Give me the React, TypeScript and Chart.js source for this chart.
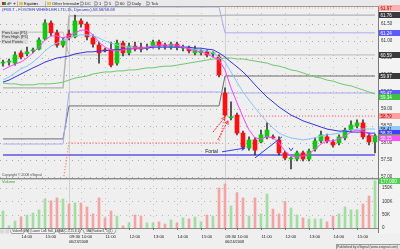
import React, { useEffect, useRef } from 'react';
import { Chart, registerables } from 'chart.js';

Chart.register(...registerables);

// ---------------- data ----------------
const dayDates = ['06/20/2008', '06/23/2008', '06/24/2008'];
const daySizes = [11, 26, 26];

const opens = [
  60.35, 60.38, 60.35, 60.65, 60.62, 60.71, 60.76, 61.06, 61.53, 61.24, 60.88,
  61.21, 61.12, 61.59, 61.50, 61.09, 60.88, 60.74, 60.74, 60.35, 60.94, 60.65, 60.85, 60.82, 60.79, 60.85, 60.97, 60.86, 60.82, 60.91, 60.79, 60.79, 60.65, 60.65, 60.68, 60.62, 60.53,
  59.47, 58.74, 58.82, 58.29, 57.85, 58.09, 58.03, 58.18, 58.18, 58.09, 57.71, 57.53, 57.53, 57.71, 57.53, 57.82, 58.06, 58.18, 58.03, 58.00, 58.15, 58.38, 58.50, 58.59, 58.21, 58.03,
];
const closes = [
  60.35, 60.38, 60.59, 60.53, 60.68, 60.74, 61.03, 61.53, 61.24, 60.88, 61.00,
  61.09, 61.59, 61.50, 61.12, 60.91, 60.65, 60.71, 60.29, 60.94, 60.65, 60.85, 60.76, 60.76, 60.82, 60.97, 60.85, 60.85, 60.91, 60.82, 60.79, 60.71, 60.76, 60.71, 60.59, 60.62, 60.00,
  58.82, 58.76, 58.29, 57.88, 58.09, 57.79, 58.24, 58.38, 58.15, 57.71, 57.56, 57.53, 57.71, 57.53, 57.76, 58.06, 58.24, 58.06, 57.94, 58.18, 58.38, 58.53, 58.59, 58.18, 58.03, 58.21,
];
const highs = [
  60.44, 60.47, 60.68, 60.71, 60.82, 60.79, 61.09, 61.62, 61.59, 61.32, 61.09,
  61.32, 61.76, 61.65, 61.56, 61.18, 60.97, 60.79, 60.97, 61.03, 61.00, 60.94, 60.97, 60.94, 60.91, 61.03, 61.03, 60.94, 60.97, 60.97, 60.88, 60.85, 60.85, 60.76, 60.74, 60.68, 60.59,
  59.62, 59.21, 58.88, 58.35, 58.18, 58.15, 58.38, 58.59, 58.24, 58.18, 57.76, 57.59, 57.76, 57.76, 57.82, 58.15, 58.35, 58.26, 58.09, 58.24, 58.44, 58.65, 58.68, 58.68, 58.29, 58.26,
];
const lows = [
  60.26, 60.29, 60.29, 60.47, 60.56, 60.65, 60.74, 61.03, 61.15, 60.82, 60.82,
  61.03, 61.09, 61.41, 61.03, 60.82, 60.35, 60.68, 60.24, 60.29, 60.56, 60.59, 60.71, 60.68, 60.74, 60.79, 60.76, 60.76, 60.76, 60.74, 60.71, 60.65, 60.59, 60.59, 60.53, 60.53, 59.94,
  58.79, 58.68, 58.24, 57.82, 57.79, 57.65, 58.00, 58.12, 58.12, 57.65, 57.50, 57.24, 57.47, 57.47, 57.47, 57.76, 58.00, 58.00, 57.88, 57.94, 58.09, 58.32, 58.44, 58.12, 57.94, 57.71,
];
const volumes = [
  64000, 8000, 26000, 41000, 49000, 56000, 68000, 109000, 102000, 113000, 109000,
  90000, 94000, 94000, 79000, 53000, 113000, 38000, 64000, 45000, 8000, 19000, 49000, 45000, 19000, 19000, 23000, 15000, 30000, 19000, 38000, 34000, 41000, 23000, 49000, 45000, 150000,
  165000, 83000, 132000, 113000, 45000, 113000, 53000, 128000, 71000, 53000, 100000, 75000, 49000, 38000, 34000, 34000, 34000, 23000, 45000, 53000, 79000, 68000, 68000, 90000, 120000, 177000,
];

// moving averages
const maFast = [
  60.15, 60.24, 60.32, 60.38, 60.50, 60.65, 60.82, 61.03, 61.15, 61.15, 61.09,
  61.15, 61.24, 61.32, 61.32, 61.18, 60.97, 60.82, 60.74, 60.71, 60.74, 60.76, 60.79, 60.79, 60.82, 60.85, 60.88, 60.88, 60.88, 60.88, 60.82, 60.76, 60.71, 60.68, 60.62, 60.53, 60.44,
  60.15, 59.62, 59.18, 58.76, 58.38, 58.15, 58.12, 58.18, 58.15, 58.00, 57.76, 57.62, 57.59, 57.62, 57.68, 57.82, 57.97, 58.06, 58.06, 58.12, 58.21, 58.32, 58.38, 58.35, 58.26, 58.18,
];
const maMid = [
  59.85, 59.94, 60.06, 60.18, 60.26, 60.38, 60.53, 60.71, 60.85, 60.94, 61.03,
  61.09, 61.15, 61.18, 61.18, 61.15, 61.09, 61.00, 60.94, 60.88, 60.85, 60.82, 60.82, 60.79, 60.79, 60.82, 60.82, 60.82, 60.82, 60.82, 60.82, 60.79, 60.76, 60.74, 60.71, 60.65, 60.53,
  60.38, 60.09, 59.79, 59.50, 59.26, 59.03, 58.82, 58.62, 58.44, 58.29, 58.21, 58.15, 58.12, 58.09, 58.12, 58.15, 58.21, 58.24, 58.26, 58.29, 58.35, 58.38, 58.41, 58.41, 58.41, 58.41,
];
const maSlow = [
  59.79, 59.85, 59.94, 60.03, 60.12, 60.21, 60.29, 60.38, 60.44, 60.50, 60.53,
  60.56, 60.62, 60.65, 60.68, 60.68, 60.71, 60.71, 60.74, 60.74, 60.76, 60.76, 60.79, 60.79, 60.79, 60.82, 60.82, 60.82, 60.82, 60.82, 60.82, 60.82, 60.79, 60.79, 60.76, 60.74, 60.65,
  60.53, 60.38, 60.24, 60.09, 59.91, 59.71, 59.53, 59.35, 59.21, 59.06, 58.94, 58.82, 58.74, 58.65, 58.59, 58.53, 58.47, 58.41, 58.38, 58.35, 58.35, 58.32, 58.32, 58.32, 58.29, 58.29,
];
const maLong = [
  59.76, 59.74, 59.74, 59.71, 59.71, 59.71, 59.74, 59.74, 59.74, 59.76, 59.79,
  59.85, 59.91, 59.94, 59.97, 60.03, 60.06, 60.09, 60.09, 60.12, 60.12, 60.15, 60.15, 60.18, 60.21, 60.21, 60.24, 60.26, 60.26, 60.29, 60.32, 60.35, 60.38, 60.41, 60.44, 60.47, 60.47,
  60.50, 60.50, 60.47, 60.47, 60.44, 60.41, 60.38, 60.35, 60.29, 60.26, 60.21, 60.15, 60.12, 60.06, 60.00, 59.94, 59.91, 59.85, 59.82, 59.76, 59.71, 59.68, 59.62, 59.56, 59.50, 59.44,
];

// pivot-style levels, one value per session
const prevHighLevels = [59.62, 61.74, 61.76];
const prevLowLevels = [57.97, 59.5, 59.47];
const pivotLevels = [58.12, 59.09, 59.97];
const r1Levels = [61.26, 60.59, 60.59];
const r2Levels = [null, 62.0, 61.24];
const r3Levels = [null, null, 61.97];
const s1Levels = [56.85, 58.0, 58.79];
const fortalLevel = 57.65;

const priceTicks = [57, 57.5, 58, 58.5, 59, 59.5, 60, 60.5, 61, 61.5];
const volumeTicks = [0, 50000, 100000, 150000];
const volumeTickLabels = ['0', '50K', '100K', '150K'];
const timeTickIndex = [3, 7, 11, 13, 17, 21, 25, 29, 33, 37, 39, 43, 47, 51, 55, 59];
const timeTickLabels = ['14:00', '15:00', '09:30', '10:00', '11:00', '12:00', '13:00', '14:00', '15:00', '09:30', '10:00', '11:00', '12:00', '13:00', '14:00', '15:00'];
const sessionStartIndex = [11, 37];

// ---------------- helpers ----------------
const FONT = '"Liberation Sans", "DejaVu Sans", Arial, sans-serif';

function expand(levels: (number | null)[]) {
  const out: (number | null)[] = [];
  levels.forEach((v, d) => {
    for (let k = 0; k < daySizes[d]; k++) out.push(v);
  });
  return out;
}

const isUp = (i: number) => closes[i] >= opens[i];

function line(ctx: any, x1: number, y1: number, x2: number, y2: number, color: string, w = 1, dash: number[] = []) {
  ctx.save();
  ctx.strokeStyle = color;
  ctx.lineWidth = w;
  ctx.setLineDash(dash);
  ctx.beginPath();
  ctx.moveTo(x1, y1);
  ctx.lineTo(x2, y2);
  ctx.stroke();
  ctx.restore();
}

function arrow(ctx: any, x1: number, y1: number, x2: number, y2: number, color: string, dash: number[] = []) {
  line(ctx, x1, y1, x2, y2, color, 1, dash);
  const a = Math.atan2(y2 - y1, x2 - x1);
  const h = 4;
  ctx.save();
  ctx.strokeStyle = color;
  ctx.lineWidth = 1;
  ctx.beginPath();
  ctx.moveTo(x2 - h * Math.cos(a - 0.5), y2 - h * Math.sin(a - 0.5));
  ctx.lineTo(x2, y2);
  ctx.lineTo(x2 - h * Math.cos(a + 0.5), y2 - h * Math.sin(a + 0.5));
  ctx.stroke();
  ctx.restore();
}

function valueBox(ctx: any, y: number, text: string, bg: string, fg: string) {
  ctx.save();
  ctx.fillStyle = bg;
  ctx.fillRect(379, Math.round(y) - 3, 21, 6);
  ctx.fillStyle = fg;
  ctx.font = `4.5px ${FONT}`;
  ctx.textBaseline = 'middle';
  ctx.textAlign = 'left';
  ctx.fillText(text, 380.5, Math.round(y) + 0.3);
  ctx.restore();
}

function text(ctx: any, s: string, x: number, y: number, size: number, color: string, align = 'left') {
  ctx.save();
  ctx.font = `${size}px ${FONT}`;
  ctx.fillStyle = color;
  ctx.textAlign = align;
  ctx.textBaseline = 'middle';
  ctx.fillText(s, x, y);
  ctx.restore();
}

// ---------------- plugins ----------------
const priceDecor = {
  id: 'priceDecor',
  beforeDraw(chart: any) {
    const { ctx, chartArea: a, scales } = chart;
    const x = scales.x;
    const y = scales.y;
    ctx.save();
    ctx.fillStyle = '#efefef';
    ctx.fillRect(0, 0, chart.width, chart.height);
    ctx.fillStyle = '#f3f3f3';
    ctx.fillRect(378, 7, 22, chart.height - 7);
    priceTicks.forEach((v) => {
      const py = Math.round(y.getPixelForValue(v)) + 0.5;
      line(ctx, a.left, py, a.right, py, '#a8a8a8', 1, [1, 5]);
    });
    timeTickIndex.forEach((i) => {
      const px = Math.round(x.getPixelForValue(i)) + 0.5;
      line(ctx, px, a.top, px, a.bottom, '#c4c4c4', 1, [1, 5]);
    });
    sessionStartIndex.forEach((i) => {
      const px = Math.round(x.getPixelForValue(i)) + 0.5;
      line(ctx, px, a.top, px, a.bottom, '#d0d0d0', 1);
    });
    ctx.restore();
  },
  afterDraw(chart: any) {
    const { ctx, scales } = chart;
    const x = scales.x;
    const y = scales.y;
    const P = (i: number, v: number) => [x.getPixelForValue(i), y.getPixelForValue(v)];

    // toolbar
    ctx.save();
    ctx.fillStyle = '#e9e9e9';
    ctx.fillRect(0, 0, 400, 7);
    line(ctx, 0, 6.5, 400, 6.5, '#9a9a9a');
    ctx.fillStyle = '#d02020';
    ctx.fillRect(2, 2, 2, 3);
    ctx.fillStyle = '#20a020';
    ctx.fillRect(4, 2, 2, 3);
    text(ctx, 'dF', 7, 3.6, 4, '#203080');
    text(ctx, '+', 13, 3.6, 5, '#202020');
    ctx.fillStyle = '#e8c050';
    ctx.fillRect(19, 2, 4, 3);
    text(ctx, 'Equities', 24, 3.6, 4, '#202020');
    text(ctx, '▾', 34, 3.6, 4, '#404040');
    ctx.fillStyle = '#e8c050';
    ctx.fillRect(47, 2, 4, 3);
    text(ctx, 'Other Intervals', 52, 3.6, 4, '#202020');
    text(ctx, '▾', 77, 3.6, 4, '#404040');
    const radios = [[82, 'DC'], [96, '1'], [106, '5'], [117, '60'], [129, 'Daily'], [148, 'Tick']];
    radios.forEach(([px, s]: any) => {
      ctx.beginPath();
      ctx.strokeStyle = '#606060';
      ctx.lineWidth = 0.7;
      ctx.arc(px, 3.5, 1.6, 0, Math.PI * 2);
      ctx.stroke();
      text(ctx, s, px + 3, 3.6, 4, '#202020');
    });
    [17, 45, 80, 94, 104, 115, 127, 146].forEach((sx) => line(ctx, sx + 0.5, 1, sx + 0.5, 6, '#b8b8b8'));
    ctx.restore();

    // title
    text(ctx, '(FWLT - FOSTER WHEELER LTD,15, Dynamic),58.58/58.68', 2, 10, 4.2, '#3030c0');

    // left labels
    const lbls = [['Prev Low (P1)', 32.5], ['Prev High (P1)', 37.2], ['Pivot Points', 41.8]];
    lbls.forEach(([s, yy]: any) => {
      ctx.save();
      ctx.fillStyle = 'rgba(215,215,215,0.9)';
      ctx.fillRect(1, yy - 2.2, 27, 4.4);
      ctx.restore();
      text(ctx, s, 2, yy, 4, '#303030');
    });

    // annotations
    const [r1x1, r1y1] = P(35, 58.32);
    const [r1x2, r1y2] = P(37, 58.76);
    arrow(ctx, r1x1, r1y1, r1x2, r1y2, '#ff3030', [2, 1]);
    const [r2x1, r2y1] = P(35.8, 58.09);
    const [r2x2, r2y2] = P(37.5, 58.65);
    arrow(ctx, r2x1, r2y1, r2x2, r2y2, '#ff3030', [2, 1]);
    const [fx, fy] = P(33.7, 57.74);
    text(ctx, 'Fortal', fx, fy, 5, '#202020');
    const [b1x, b1y] = P(36.5, 57.74);
    const [b2x, b2y] = P(40.3, 57.85);
    arrow(ctx, b1x, b1y, b2x, b2y, '#3040e0');
    const [l1x, l1y] = P(42, 57.56);
    const [l2x, l2y] = P(46.5, 58.18);
    line(ctx, l1x, l1y, l2x, l2y, '#3040e0', 1);
    const [vx, vy] = P(48, 57.8);
    line(ctx, vx - 2, vy - 2, vx, vy + 1, '#3040e0', 1);
    line(ctx, vx, vy + 1, vx + 2, vy - 2, '#3040e0', 1);

    text(ctx, 'Copyright © 2008 eSignal', 2, 175, 3.5, '#505050');

    // right axis
    line(ctx, 378.5, 7, 378.5, 180, '#7a7a7a');
    priceTicks.forEach((v) => {
      text(ctx, v.toFixed(2), 381, y.getPixelForValue(v), 4.5, '#303030');
    });
    const last = opens.length - 1;
    const boxes: any[] = [
      [expand(prevHighLevels)[last], '#3a3a3a', '#ffffff'],
      [expand(r3Levels)[last], '#ffb0b0', '#a00000'],
      [expand(r2Levels)[last], '#5a5aff', '#ffffff'],
      [expand(r1Levels)[last], '#3a3a3a', '#ffffff'],
      [expand(pivotLevels)[last], '#3a3a3a', '#ffffff'],
      [expand(prevLowLevels)[last], '#5a5aff', '#ffffff'],
      [maLong[last] - 0.1, '#40c040', '#ffffff'],
      [expand(s1Levels)[last], '#ffa0a0', '#a00000'],
      [maMid[last], '#90c8ff', '#202020'],
      [maSlow[last], '#4040ff', '#ffffff'],
      [closes[last] - 0.02, '#30c030', '#ffffff'],
      [maFast[last] - 0.03, '#ff50ff', '#ffffff'],
    ];
    boxes.forEach(([v, bg, fg]) => {
      if (v == null) return;
      valueBox(ctx, y.getPixelForValue(v), v.toFixed(2), bg, fg);
    });
  },
};

const volumeDecor = {
  id: 'volumeDecor',
  beforeDraw(chart: any) {
    const { ctx, chartArea: a, scales } = chart;
    const x = scales.x;
    const y = scales.y;
    ctx.save();
    ctx.fillStyle = '#efefef';
    ctx.fillRect(0, 0, chart.width, chart.height);
    ctx.fillStyle = '#f3f3f3';
    ctx.fillRect(378, 0, 22, 56);
    volumeTicks.forEach((v) => {
      const py = Math.round(y.getPixelForValue(v)) + 0.5;
      line(ctx, a.left, py, a.right, py, '#b4b4b4', 1, [1, 5]);
    });
    timeTickIndex.forEach((i) => {
      const px = Math.round(x.getPixelForValue(i)) + 0.5;
      line(ctx, px, a.top, px, a.bottom, '#c4c4c4', 1, [1, 5]);
    });
    sessionStartIndex.forEach((i) => {
      const px = Math.round(x.getPixelForValue(i)) + 0.5;
      line(ctx, px, a.top, px, a.bottom, '#d0d0d0', 1);
    });
    ctx.restore();
  },
  afterDraw(chart: any) {
    const { ctx, scales, chartArea: a } = chart;
    const x = scales.x;
    const y = scales.y;
    line(ctx, 0, 0.5, 400, 0.5, '#8a8a8a');
    line(ctx, 0, 1.5, 400, 1.5, '#c8c8c8');
    text(ctx, 'Volume', 2, 4, 4, '#40a040');
    line(ctx, 378.5, 0, 378.5, 55, '#7a7a7a');
    line(ctx, 0, a.bottom + 0.5, 378, a.bottom + 0.5, '#8a8a8a');
    volumeTicks.forEach((v, k) => {
      text(ctx, volumeTickLabels[k], 382, y.getPixelForValue(v), 4.5, '#303030');
    });
    const last = volumes.length - 1;
    valueBox(ctx, y.getPixelForValue(volumes[last]), volumes[last].toLocaleString('en-US'), '#50d050', '#ffffff');

    // tabs row
    ctx.save();
    ctx.fillStyle = '#d8d8d8';
    ctx.fillRect(0, 51.5, 4, 4);
    ctx.fillRect(5, 51.5, 4, 4);
    ctx.restore();
    const tabs: any[] = [['Volume', 10, 25], ['DMI (Lower Low Sell, 14)', 27, 56], ['MA(C,5,25,8,1)', 58, 81], ['MA(Radian3, 5)(1)', 83, 116]];
    tabs.forEach(([s, x1, x2]) => {
      ctx.save();
      ctx.strokeStyle = '#707070';
      ctx.lineWidth = 0.6;
      ctx.fillStyle = '#f6f6f6';
      ctx.beginPath();
      ctx.moveTo(x1, 51.5);
      ctx.lineTo(x1 + 1.5, 55.5);
      ctx.lineTo(x2 - 1.5, 55.5);
      ctx.lineTo(x2, 51.5);
      ctx.fill();
      ctx.stroke();
      ctx.restore();
      text(ctx, s, (x1 + x2) / 2, 53.5, 3.2, '#303030', 'center');
    });

    // time axis labels
    timeTickIndex.forEach((i, k) => {
      const px = x.getPixelForValue(i);
      line(ctx, Math.round(px) + 0.5, a.bottom, Math.round(px) + 0.5, a.bottom + 2, '#707070');
      text(ctx, timeTickLabels[k], px + 0.5, 59, 4.3, '#202020');
    });
    sessionStartIndex.forEach((i, k) => {
      const px = x.getPixelForValue(i);
      text(ctx, dayDates[k + 1], px, 64, 3.8, '#202020');
    });

    // footer
    ctx.save();
    ctx.fillStyle = '#e6e6e6';
    ctx.fillRect(336, 66, 64, 5);
    ctx.restore();
    line(ctx, 336, 66.5, 400, 66.5, '#9a9a9a');
    line(ctx, 336.5, 66, 336.5, 71, '#9a9a9a');
    text(ctx, 'Published by eSignal (www.esignal.com)', 398, 69, 3.4, '#404040', 'right');
  },
};

// ---------------- component ----------------
export default function App() {
  const priceRef = useRef<HTMLCanvasElement>(null);
  const volRef = useRef<HTMLCanvasElement>(null);

  useEffect(() => {
    document.body.style.margin = '0';
    const labels = opens.map((_, i) => String(i));
    const lineDs = (label: string, data: any[], color: string, width: number, order: number, dash: number[] = []) => ({
      type: 'line',
      label,
      data,
      borderColor: color,
      borderWidth: width,
      borderDash: dash,
      pointRadius: 0,
      tension: 0,
      fill: false,
      order,
    });

    const pc = new Chart(priceRef.current as HTMLCanvasElement, {
      type: 'bar',
      data: {
        labels,
        datasets: [
          lineDs('Prev High', expand(prevHighLevels), '#b2b2b2', 1.4, 20),
          lineDs('Prev Low', expand(prevLowLevels), '#acacf2', 1, 20),
          lineDs('Pivot', expand(pivotLevels), '#6e6e6e', 1, 20),
          lineDs('R1', expand(r1Levels), '#bababa', 1, 20),
          lineDs('R2', expand(r2Levels), '#acacf2', 1, 20),
          lineDs('R3', expand(r3Levels), '#ff9c9c', 1.2, 20, [1, 2]),
          lineDs('S1', expand(s1Levels), '#ff7070', 1.3, 20, [1, 2]),
          lineDs('Fortal', opens.map(() => fortalLevel), '#5858e0', 1.5, 20),
          {
            type: 'bar',
            label: 'wick',
            data: lows.map((l, i) => [l, highs[i]]),
            backgroundColor: '#3a3a3a',
            barThickness: 1,
            grouped: false,
            order: 10,
          },
          {
            type: 'bar',
            label: 'body',
            data: opens.map((o, i) => [o, closes[i]]),
            backgroundColor: (c: any) => (isUp(c.dataIndex) ? '#10c810' : '#ff1010'),
            borderColor: '#404040',
            borderWidth: 0,
            barThickness: 4,
            minBarLength: 1,
            grouped: false,
            order: 9,
          },
          lineDs('MA slow', maLong, '#70c870', 1, 2),
          lineDs('MA 3', maSlow, '#3434e0', 1, 1),
          lineDs('MA 2', maMid, '#88c4ff', 1, 1),
          lineDs('MA 1', maFast, '#ff44ff', 1, 0),
        ],
      } as any,
      options: {
        responsive: false,
        animation: false,
        layout: { padding: { left: 0, right: 22, top: 7, bottom: 2 } },
        plugins: { legend: { display: false }, tooltip: { enabled: false } },
        scales: {
          x: { type: 'category', display: false, offset: true },
          y: { display: false, min: 56.97, max: 62.0 },
        },
      } as any,
      plugins: [priceDecor],
    });

    const vc = new Chart(volRef.current as HTMLCanvasElement, {
      type: 'bar',
      data: {
        labels,
        datasets: [
          {
            label: 'Volume',
            data: volumes,
            backgroundColor: (c: any) => (isUp(c.dataIndex) ? '#a2dea2' : '#f4a4a4'),
            barThickness: 2,
          },
        ],
      },
      options: {
        responsive: false,
        animation: false,
        layout: { padding: { left: 0, right: 22, top: 2, bottom: 21 } },
        plugins: { legend: { display: false }, tooltip: { enabled: false } },
        scales: {
          x: { type: 'category', display: false, offset: true },
          y: { display: false, min: 0, max: 180000 },
        },
      } as any,
      plugins: [volumeDecor],
    });

    return () => {
      pc.destroy();
      vc.destroy();
    };
  }, []);

  return (
    <div style={{ position: 'relative', width: 400, height: 249, background: '#efefef', overflow: 'hidden' }}>
      <canvas ref={priceRef} width={400} height={180} style={{ position: 'absolute', left: 0, top: 0, width: 400, height: 180 }} />
      <canvas ref={volRef} width={400} height={71} style={{ position: 'absolute', left: 0, top: 178, width: 400, height: 71 }} />
    </div>
  );
}
